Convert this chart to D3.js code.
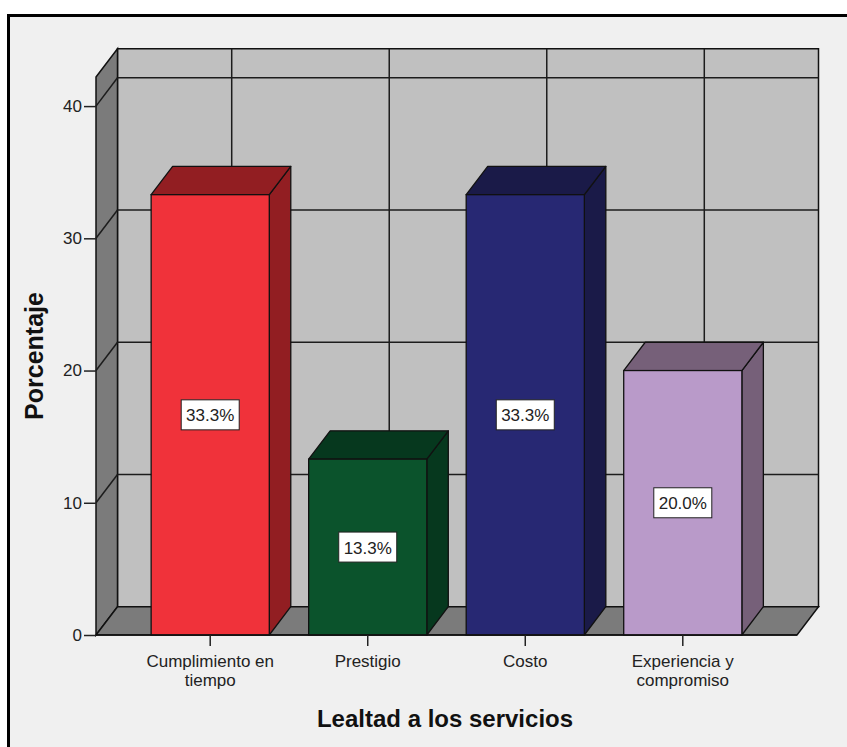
<!DOCTYPE html>
<html>
<head>
<meta charset="utf-8">
<script src="https://cdn.jsdelivr.net/npm/d3@7"></script>
<style>
  html, body { margin: 0; padding: 0; background: #ffffff; }
  svg { display: block; }
  text { font-family: "Liberation Sans", Arial, sans-serif; }
</style>
</head>
<body>
<script>
// Lealtad a los servicios — porcentaje por categoría
const categories = ["Cumplimiento en tiempo", "Prestigio", "Costo", "Experiencia y compromiso"];
const labelLines = [["Cumplimiento en", "tiempo"], ["Prestigio"], ["Costo"], ["Experiencia y", "compromiso"]];
const values = [33.3, 13.3, 33.3, 20.0];
const yTicks = [0, 10, 20, 30, 40];
const frontColors = ["#f0323a", "#0b532c", "#272873", "#b99ac9"];
const shadeColors = ["#921e22", "#06381e", "#1a1a48", "#766079"];

const W = 847, H = 747;
const svg = d3.select("body").append("svg").attr("width", W).attr("height", H);

// panel background and frame
svg.append("rect").attr("x", 0).attr("y", 0).attr("width", W).attr("height", H).attr("fill", "#ffffff");
svg.append("rect").attr("x", 8.5).attr("y", 15.5).attr("width", W + 20).attr("height", H + 20)
  .attr("fill", "#f0f0f0").attr("stroke", "#000").attr("stroke-width", 3);

// front plane geometry and 3D depth offset
const x0 = 96, x1 = 797, yBase = 635, yTop = 77;
const dx = 21.5, dy = 28.3;

const y = d3.scaleLinear().domain([0, 42.2]).range([yBase, yTop]);
const x = d3.scaleBand().domain(categories).range([x0, x1]).paddingInner(0.25).paddingOuter(0.35);

const line = (pts) => "M" + pts.map(p => p.join(",")).join("L") + "Z";
const gridStroke = "#1c1c1c";

const g = svg.append("g");

// back wall
g.append("path").attr("d", line([[x0 + dx, yTop - dy], [x1 + dx, yTop - dy], [x1 + dx, yBase - dy], [x0 + dx, yBase - dy]]))
  .attr("fill", "#c0c0c0").attr("stroke", "#111").attr("stroke-width", 1.5);
// left wall
g.append("path").attr("d", line([[x0, yTop], [x0 + dx, yTop - dy], [x0 + dx, yBase - dy], [x0, yBase]]))
  .attr("fill", "#7b7b7b").attr("stroke", "#111").attr("stroke-width", 1.5);
// floor
g.append("path").attr("d", line([[x0, yBase], [x0 + dx, yBase - dy], [x1 + dx, yBase - dy], [x1, yBase]]))
  .attr("fill", "#7b7b7b").attr("stroke", "#111").attr("stroke-width", 1.5);

// horizontal gridlines on back wall and diagonals on left wall
yTicks.filter(v => v > 0).forEach(v => {
  g.append("line").attr("x1", x0 + dx).attr("x2", x1 + dx)
    .attr("y1", y(v) - dy).attr("y2", y(v) - dy)
    .attr("stroke", gridStroke).attr("stroke-width", 1.5);
  g.append("line").attr("x1", x0).attr("x2", x0 + dx)
    .attr("y1", y(v)).attr("y2", y(v) - dy)
    .attr("stroke", gridStroke).attr("stroke-width", 1.5);
});

// vertical gridlines on back wall at category centres
categories.forEach(c => {
  const cx = x(c) + x.bandwidth() / 2;
  g.append("line").attr("x1", cx + dx).attr("x2", cx + dx)
    .attr("y1", yTop - dy).attr("y2", yBase - dy)
    .attr("stroke", gridStroke).attr("stroke-width", 1.5);
});

// bars
const bars = g.selectAll("g.bar").data(values).join("g").attr("class", "bar");
bars.each(function (v, i) {
  const gb = d3.select(this);
  const bx0 = x(categories[i]), bx1 = bx0 + x.bandwidth();
  const yt = y(v), yb = y(0);
  // side face
  gb.append("path").attr("d", line([[bx1, yt], [bx1 + dx, yt - dy], [bx1 + dx, yb - dy], [bx1, yb]]))
    .attr("fill", shadeColors[i]).attr("stroke", "#111").attr("stroke-width", 1.3).attr("stroke-linejoin", "round");
  // top face
  gb.append("path").attr("d", line([[bx0, yt], [bx0 + dx, yt - dy], [bx1 + dx, yt - dy], [bx1, yt]]))
    .attr("fill", shadeColors[i]).attr("stroke", "#111").attr("stroke-width", 1.3).attr("stroke-linejoin", "round");
  // front face
  gb.append("rect").attr("x", bx0).attr("y", yt).attr("width", bx1 - bx0).attr("height", yb - yt)
    .attr("fill", frontColors[i]).attr("stroke", "#111").attr("stroke-width", 1.3);
});

// floor front edge drawn over the bars' bottom
g.append("line").attr("x1", x0).attr("x2", x1).attr("y1", yBase).attr("y2", yBase)
  .attr("stroke", "#111").attr("stroke-width", 1.5);

// value labels in boxes
bars.each(function (v, i) {
  const gb = d3.select(this);
  const cx = x(categories[i]) + x.bandwidth() / 2;
  const cy = y(v / 2);
  gb.append("rect").attr("x", cx - 29).attr("y", cy - 15).attr("width", 58).attr("height", 30)
    .attr("fill", "#ffffff").attr("stroke", "#222").attr("stroke-width", 1);
  gb.append("text").attr("x", cx).attr("y", cy + 6.5).attr("text-anchor", "middle")
    .attr("font-size", 17).attr("fill", "#222").text(d3.format(".1f")(v) + "%");
});

// y axis
const yAxis = d3.axisLeft(y).tickValues(yTicks).tickSize(12).tickPadding(2).tickFormat(d3.format("d"));
const ya = svg.append("g").attr("transform", `translate(${x0},0)`).call(yAxis);
ya.select(".domain").remove();
ya.selectAll(".tick line").attr("stroke", "#222").attr("stroke-width", 1.5);
ya.selectAll(".tick text").attr("font-size", 17).attr("fill", "#222")
  .attr("font-family", "'Liberation Sans', Arial, sans-serif");

// x axis ticks and wrapped category labels
const xa = svg.append("g");
categories.forEach((c, i) => {
  const cx = x(c) + x.bandwidth() / 2;
  xa.append("line").attr("x1", cx).attr("x2", cx).attr("y1", yBase).attr("y2", yBase + 11)
    .attr("stroke", "#222").attr("stroke-width", 1.5);
  const t = xa.append("text").attr("x", cx).attr("y", yBase + 32).attr("text-anchor", "middle")
    .attr("font-size", 17).attr("fill", "#222");
  labelLines[i].forEach((ln, k) => {
    t.append("tspan").attr("x", cx).attr("dy", k === 0 ? 0 : 18.5).text(ln);
  });
});

// axis titles
svg.append("text").attr("x", 445).attr("y", 727).attr("text-anchor", "middle")
  .attr("font-size", 24).attr("font-weight", "bold").attr("fill", "#111").text("Lealtad a los servicios");
svg.append("text").attr("transform", "translate(43,356) rotate(-90)").attr("text-anchor", "middle")
  .attr("font-size", 25).attr("font-weight", "bold").attr("fill", "#111").text("Porcentaje");
</script>
</body>
</html>
